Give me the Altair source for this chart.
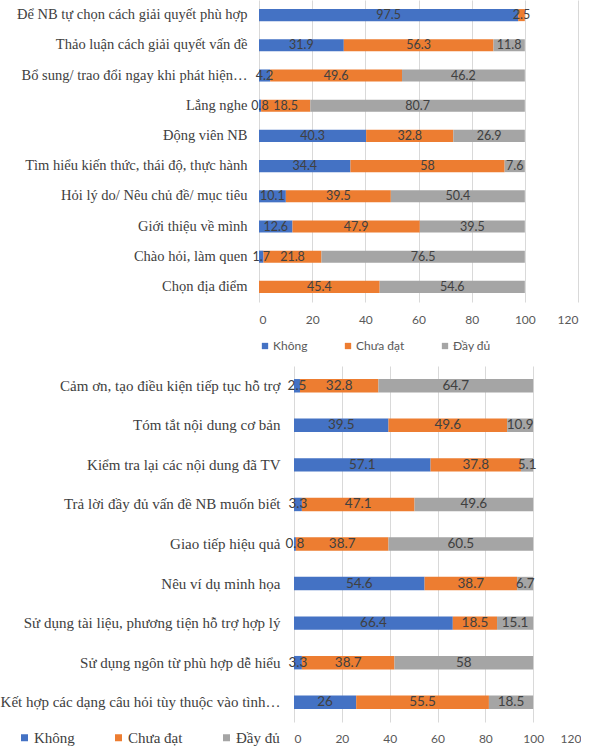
import altair as alt
import pandas as pd

series = ["Không", "Chưa đạt", "Đầy đủ"]
colors = ["#4472C4", "#ED7D31", "#A5A5A5"]

top_cats = [
    "Để NB tự chọn cách giải quyết phù hợp",
    "Thảo luận cách giải quyết vấn đề",
    "Bổ sung/ trao đổi ngay khi phát hiện…",
    "Lắng nghe",
    "Động viên NB",
    "Tìm hiểu kiến thức, thái độ, thực hành",
    "Hỏi lý do/ Nêu chủ đề/ mục tiêu",
    "Giới thiệu về mình",
    "Chào hỏi, làm quen",
    "Chọn địa điểm",
]
top_khong = [97.5, 31.9, 4.2, 0.8, 40.3, 34.4, 10.1, 12.6, 1.7, 0]
top_chua = [2.5, 56.3, 49.6, 18.5, 32.8, 58, 39.5, 47.9, 21.8, 45.4]
top_daydu = [0, 11.8, 46.2, 80.7, 26.9, 7.6, 50.4, 39.5, 76.5, 54.6]

bot_cats = [
    "Cảm ơn, tạo điều kiện tiếp tục hỗ trợ",
    "Tóm tắt nội dung cơ bản",
    "Kiểm tra lại các nội dung đã TV",
    "Trả lời đầy đủ vấn đề NB muốn biết",
    "Giao tiếp hiệu quả",
    "Nêu ví dụ minh họa",
    "Sử dụng tài liệu, phương tiện hỗ trợ hợp lý",
    "Sử dụng ngôn từ phù hợp dễ hiểu",
    "Kết hợp các dạng câu hỏi tùy thuộc vào tình…",
]
bot_khong = [2.5, 39.5, 57.1, 3.3, 0.8, 54.6, 66.4, 3.3, 26]
bot_chua = [32.8, 49.6, 37.8, 47.1, 38.7, 38.7, 18.5, 38.7, 55.5]
bot_daydu = [64.7, 10.9, 5.1, 49.6, 60.5, 6.7, 15.1, 58, 18.5]

x_ticks = [0, 20, 40, 60, 80, 100, 120]


def long_df(cats, a, b, c):
    rows = []
    for i, cat in enumerate(cats):
        for k, (s, vals) in enumerate(zip(series, [a, b, c])):
            v = vals[i]
            rows.append({"cat": cat, "series": s, "value": v, "order": k,
                         "label": f"{v:g}"})
    return pd.DataFrame(rows)


def panel(df, cats, width, height, shift, pad_in, label_pad, legend, dsize,
          xpad, ysize):
    base = alt.Chart(df).transform_filter(
        alt.datum.value > 0
    ).transform_stack(
        stack="value", groupby=["cat"], as_=["v0", "v1"],
        sort=[alt.SortField("order", order="ascending")]
    ).transform_calculate(mid="(datum.v0 + datum.v1) / 2")

    xscale = alt.Scale(domain=[0, 120], nice=False, range=[shift, width])
    yenc = alt.Y(
        "cat:N", sort=cats,
        scale=alt.Scale(paddingInner=pad_in, paddingOuter=pad_in / 2),
        axis=alt.Axis(title=None, domain=False, ticks=False,
                      labelFont="Liberation Serif", labelFontSize=ysize,
                      labelColor="#404040", labelPadding=label_pad,
                      labelLimit=320, offset=-shift,
                      minExtent=256, maxExtent=256),
    )
    bars = base.mark_bar().encode(
        x=alt.X("v0:Q", scale=xscale,
                axis=alt.Axis(values=x_ticks, title=None, grid=True,
                              gridColor="#D9D9D9", domain=False, ticks=False,
                              labelFont="Lato", labelFontSize=12,
                              labelColor="#595959", labelPadding=xpad)),
        x2="v1:Q",
        y=yenc,
        color=alt.Color("series:N",
                        scale=alt.Scale(domain=series, range=colors),
                        sort=series, legend=legend),
    )
    texts = base.mark_text(font="Lato", fontSize=dsize, color="#404040",
                           baseline="middle", align="center").encode(
        x=alt.X("mid:Q", scale=xscale),
        y=alt.Y("cat:N", sort=cats),
        text="label:N",
    )
    return alt.layer(bars, texts).properties(width=width, height=height)


top_legend = alt.Legend(orient="none", legendX=0, legendY=340,
                        direction="horizontal", title=None,
                        symbolType="square", symbolSize=40,
                        symbolStrokeWidth=0,
                        labelFont="Lato", labelFontSize=12,
                        labelColor="#595959", columnPadding=34,
                        labelOffset=2)
bot_legend = alt.Legend(orient="none", legendX=-242, legendY=364,
                        direction="horizontal", title=None,
                        symbolType="square", symbolSize=49,
                        symbolStrokeWidth=0,
                        labelFont="Liberation Serif", labelFontSize=15,
                        labelColor="#404040", columnPadding=36,
                        labelOffset=2)

top = panel(long_df(top_cats, top_khong, top_chua, top_daydu), top_cats,
            319, 302, 0, 0.6, 12, top_legend, 12.5, 12, 14.5)
bot = panel(long_df(bot_cats, bot_khong, bot_chua, bot_daydu), bot_cats,
            322, 356, 35, 0.66, 14, bot_legend, 13.5, 11, 15)

chart = alt.vconcat(top, bot, spacing=14).resolve_scale(
    color="independent"
).resolve_legend(color="independent").properties(
    padding={"left": 0, "top": 0, "right": 0, "bottom": 0},
    background="white",
).configure_view(stroke=None)

chart.save("out.html", embed_options={"renderer": "svg", "actions": False})
